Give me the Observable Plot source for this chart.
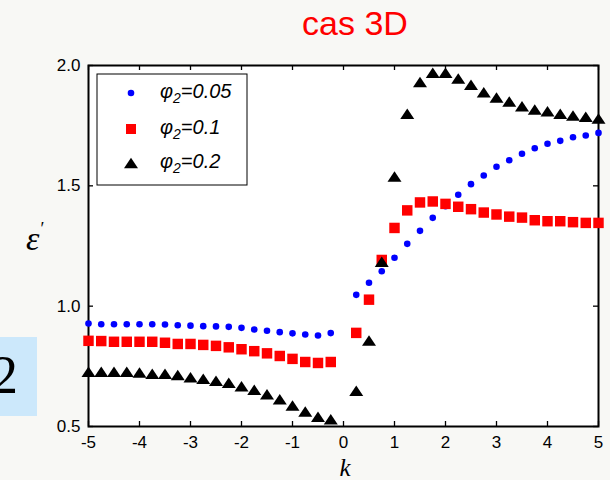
<!DOCTYPE html>
<html>
<head>
<meta charset="utf-8">
<script src="https://cdn.jsdelivr.net/npm/d3@7"></script>
<script src="https://cdn.jsdelivr.net/npm/@observablehq/plot@0.6"></script>
<style>
  html, body { margin: 0; padding: 0; background: #f8f8f5; }
  #chart { width: 610px; height: 480px; }
</style>
</head>
<body>
<div id="chart"></div>
<script>
// ---- data ----
const k = [-5, -4.75, -4.5, -4.25, -4, -3.75, -3.5, -3.25, -3, -2.75, -2.5, -2.25, -2, -1.75, -1.5, -1.25, -1, -0.75, -0.5, -0.25,
           0.25, 0.5, 0.75, 1, 1.25, 1.5, 1.75, 2, 2.25, 2.5, 2.75, 3, 3.25, 3.5, 3.75, 4, 4.25, 4.5, 4.75, 5];
const eps005 = [0.928, 0.925, 0.925, 0.925, 0.925, 0.925, 0.924, 0.921, 0.919, 0.917, 0.916, 0.914, 0.910, 0.903, 0.898, 0.892, 0.887, 0.882, 0.878, 0.888,
                1.047, 1.097, 1.145, 1.201, 1.259, 1.313, 1.367, 1.415, 1.463, 1.507, 1.543, 1.579, 1.606, 1.633, 1.656, 1.675, 1.687, 1.702, 1.709, 1.720];
const eps01 = [0.856, 0.855, 0.852, 0.852, 0.852, 0.852, 0.848, 0.843, 0.843, 0.839, 0.835, 0.829, 0.821, 0.813, 0.804, 0.793, 0.781, 0.768, 0.764, 0.768,
               0.889, 1.027, 1.192, 1.325, 1.398, 1.431, 1.435, 1.425, 1.413, 1.403, 1.389, 1.381, 1.372, 1.368, 1.357, 1.353, 1.353, 1.349, 1.346, 1.346];
const eps02 = [0.728, 0.728, 0.728, 0.728, 0.724, 0.719, 0.719, 0.714, 0.705, 0.698, 0.690, 0.682, 0.667, 0.653, 0.634, 0.613, 0.587, 0.562, 0.541, 0.530,
               0.649, 0.857, 1.185, 1.539, 1.799, 1.931, 1.970, 1.970, 1.946, 1.920, 1.889, 1.867, 1.850, 1.831, 1.817, 1.810, 1.800, 1.792, 1.787, 1.780];
const seriesNames = ["0.05", "0.1", "0.2"];
const seriesColors = ["#0000ff", "#ff0000", "#000000"];
const xTicks = [-5, -4, -3, -2, -1, 0, 1, 2, 3, 4, 5];
const yTicks = [0.5, 1.0, 1.5, 2.0];
const titleText = "cas 3D";

const rows = k.map((kk, i) => ({k: kk, a: eps005[i], b: eps01[i], c: eps02[i]}));

const W = 610, H = 480, mL = 88, mR = 12, mT = 65, mB = 54;
const fw = W - mL - mR, fh = H - mT - mB;

const triangle = {
  draw(context, size) {
    const r = Math.sqrt(size / Math.PI);
    const w = r * 1.4, h = r * 1.05;
    context.moveTo(0, -h);
    context.lineTo(w, h);
    context.lineTo(-w, h);
    context.closePath();
  }
};

const plot = Plot.plot({
  width: W, height: H,
  marginLeft: mL, marginRight: mR, marginTop: mT, marginBottom: mB,
  style: {background: "#f8f8f5", fontFamily: "Arial, 'Liberation Sans', sans-serif", fontSize: "17px", color: "black"},
  x: {domain: [-5, 5]},
  y: {domain: [0.5, 2.0]},
  marks: [
    Plot.frame({fill: "white"}),
    Plot.frame({stroke: "black", strokeWidth: 2}),
    Plot.tickX(xTicks, {x: d => d, insetTop: fh - 5, stroke: "black", strokeWidth: 1.3}),
    Plot.tickX(xTicks, {x: d => d, insetBottom: fh - 5, stroke: "black", strokeWidth: 1.3}),
    Plot.tickY(yTicks, {y: d => d, insetRight: fw - 5, stroke: "black", strokeWidth: 1.3}),
    Plot.tickY(yTicks, {y: d => d, insetLeft: fw - 5, stroke: "black", strokeWidth: 1.3}),
    Plot.axisX(xTicks, {tickSize: 0, tickPadding: 9, tickFormat: d => String(d), label: null}),
    Plot.axisY(yTicks, {tickSize: 0, tickPadding: 8, tickFormat: d => d.toFixed(1), label: null}),
    Plot.dot(rows, {x: "k", y: "a", r: 3.3, fill: seriesColors[0], symbol: "circle"}),
    Plot.dot(rows, {x: "k", y: "b", r: 5.9, fill: seriesColors[1], symbol: "square"}),
    Plot.dot(rows, {x: "k", y: "c", r: 5, fill: seriesColors[2], symbol: triangle})
  ]
});

document.getElementById("chart").appendChild(plot);

const svg = d3.select(plot);

// left blue box with "2"
svg.append("rect").attr("x", 0).attr("y", 337).attr("width", 37).attr("height", 79).attr("fill", "#cce8fb");
svg.append("text").attr("x", 18).attr("y", 393).attr("text-anchor", "end")
  .attr("font-family", "'Liberation Serif', 'Times New Roman', serif").attr("font-size", 54).attr("fill", "black").text("2");

// title
svg.append("text").attr("x", 355).attr("y", 35).attr("text-anchor", "middle")
  .attr("font-family", "Arial, 'Liberation Sans', sans-serif").attr("font-size", 34).attr("fill", "#ff0000").text(titleText);

// y label (epsilon prime)
const yl = svg.append("text").attr("x", 26).attr("y", 250).attr("text-anchor", "start")
  .attr("font-family", "'Liberation Serif', 'Times New Roman', serif").attr("fill", "black");
yl.append("tspan").attr("font-style", "italic").attr("font-size", 34).text("ε");
yl.append("tspan").attr("dy", -15).attr("dx", 1).attr("font-size", 18).text("′");

// x label
svg.append("text").attr("x", 345).attr("y", 476).attr("text-anchor", "middle")
  .attr("font-family", "'Liberation Serif', 'Times New Roman', serif").attr("font-style", "italic").attr("font-size", 25).attr("fill", "black").text("k");

// legend
const lg = svg.append("g");
lg.append("rect").attr("x", 97).attr("y", 74).attr("width", 150).attr("height", 111)
  .attr("fill", "white").attr("stroke", "black").attr("stroke-width", 1);
const ly = [93, 129, 163];
lg.append("circle").attr("cx", 131).attr("cy", ly[0]).attr("r", 3.3).attr("fill", seriesColors[0]);
lg.append("rect").attr("x", 126).attr("y", ly[1] - 5).attr("width", 10).attr("height", 10).attr("fill", seriesColors[1]);
lg.append("path").attr("d", `M131,${ly[2] - 5.3}L138,${ly[2] + 5.3}L124,${ly[2] + 5.3}Z`).attr("fill", seriesColors[2]);
seriesNames.forEach((name, i) => {
  const t = lg.append("text").attr("x", 160).attr("y", ly[i] + 5).attr("text-anchor", "start")
    .attr("font-family", "Arial, 'Liberation Sans', sans-serif").attr("font-style", "italic")
    .attr("font-size", 20).attr("fill", "black");
  t.append("tspan").text("φ");
  t.append("tspan").attr("dy", 5).attr("font-size", 14).text("2");
  t.append("tspan").attr("dy", -5).text("=" + name);
});
</script>
</body>
</html>
